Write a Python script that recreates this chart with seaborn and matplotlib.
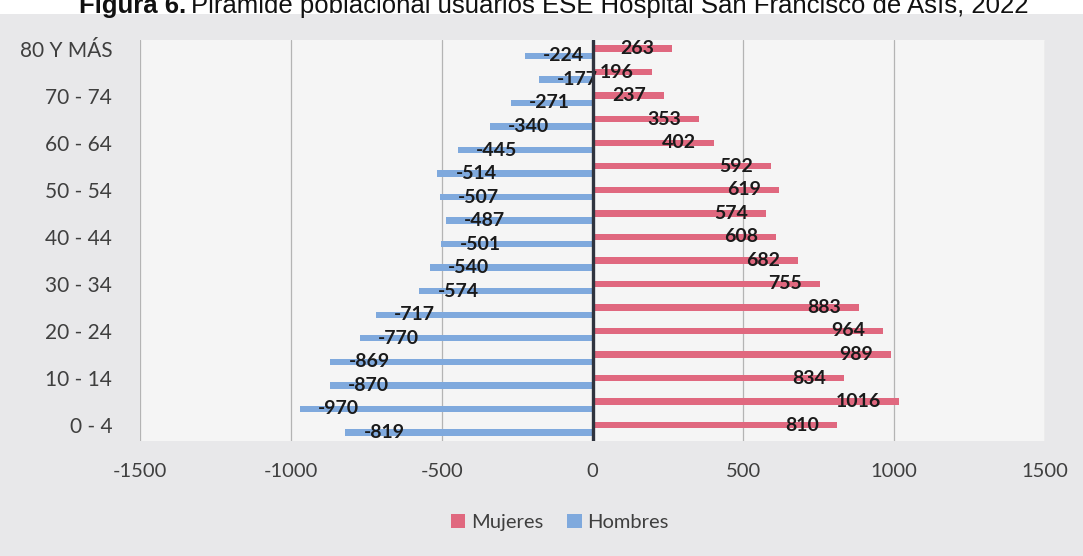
import seaborn as sns
import matplotlib.pyplot as plt
import pandas as pd
from matplotlib.patches import Rectangle
from matplotlib.transforms import ScaledTranslation

# datos de la pirámide (de arriba hacia abajo)
grupos = ['80 Y MÁS', '75 - 79', '70 - 74', '65 - 69', '60 - 64', '55 - 59',
          '50 - 54', '45 - 49', '40 - 44', '35 - 39', '30 - 34', '25 - 29',
          '20 - 24', '15 - 19', '10 - 14', '5 - 9', '0 - 4']
mujeres = [263, 196, 237, 353, 402, 592, 619, 574, 608, 682, 755, 883,
           964, 989, 834, 1016, 810]
hombres = [-224, -177, -271, -340, -445, -514, -507, -487, -501, -540, -574,
           -717, -770, -869, -870, -970, -819]
sexos = ['Mujeres', 'Hombres']
xticks = [-1500, -1000, -500, 0, 500, 1000, 1500]

df = pd.DataFrame({
    'Grupo': grupos * 2,
    'Sexo': ['Mujeres'] * len(grupos) + ['Hombres'] * len(grupos),
    'Valor': mujeres + hombres,
})

sns.set_style('white')
plt.rcParams['font.family'] = ['Lato', 'DejaVu Sans']

fig = plt.figure(figsize=(10.83, 5.56), dpi=100, facecolor='#e8e8ea')
ax = fig.add_axes([140 / 1083, 1 - 441 / 556, 905 / 1083, 401 / 556])
ax.set_facecolor('#f5f5f5')

# franja blanca superior (página) con el título cortado
fig.patches.append(Rectangle((0, 1 - 14 / 556), 1, 14 / 556, transform=fig.transFigure,
                             facecolor='white', edgecolor='none', zorder=0))

sns.barplot(data=df, y='Grupo', x='Valor', hue='Sexo', order=grupos, hue_order=sexos,
            palette=['#e0687f', '#7fa9dd'], saturation=1, width=0.62, gap=0.12,
            linewidth=0, orient='h', errorbar=None, ax=ax)

# etiquetas de datos dentro del extremo de cada barra
for cont, ha in zip(ax.containers, ['right', 'left']):
    txts = ax.bar_label(cont, fmt='%d', padding=-13, fontsize=14, fontweight='bold',
                        color='#1a1a1a')
    for t in txts:
        t.set_ha(ha)

ax.axvline(0, color='#30343f', lw=2.4, zorder=3)
ax.set_xlim(-1500, 1500)
ax.set_ylim(16.52, -0.52)
ax.set_xticks(xticks)
ax.set_xticklabels([str(v) for v in xticks])
ax.set_yticks(range(0, len(grupos), 2))
ax.set_yticklabels(grupos[::2])
ax.grid(axis='x', color='#b4b4b4', lw=0.9)
ax.grid(axis='y', visible=False)
ax.set_axisbelow(True)
for s in ax.spines.values():
    s.set_visible(False)
ax.tick_params(axis='x', length=0, pad=16, labelsize=14.5, labelcolor='#3f3f3f')
ax.tick_params(axis='y', length=0, pad=20, labelsize=15, labelcolor='#3f3f3f')
for lab in ax.get_yticklabels():
    lab.set_transform(lab.get_transform() + ScaledTranslation(0, 0.035, fig.dpi_scale_trans))
ax.set_xlabel('')
ax.set_ylabel('')

sns.move_legend(ax, 'center', bbox_to_anchor=(0.517, 0.061), bbox_transform=fig.transFigure,
                ncol=2, frameon=False, title=None, fontsize=14.5, handlelength=0.7,
                handleheight=0.7, handletextpad=0.3, columnspacing=1.2,
                labelcolor='#3f3f3f')

# título (parcialmente cortado en la parte superior)
y_t = 1 - 13 / 556
t1 = fig.text(79 / 1083, y_t, 'Figura 6.', fontsize=18.5, fontweight='bold',
              family='Liberation Sans', va='baseline', ha='left', color='#111111')
fig.canvas.draw()
bb = t1.get_window_extent()
fig.text((bb.x1 + 5) / fig.bbox.width, y_t,
         'Pirámide poblacional usuarios ESE Hospital San Francisco de Asís, 2022',
         fontsize=18.5, family='Liberation Sans', va='baseline', ha='left', color='#111111')

fig.savefig('out.png', dpi=100, facecolor=fig.get_facecolor())
